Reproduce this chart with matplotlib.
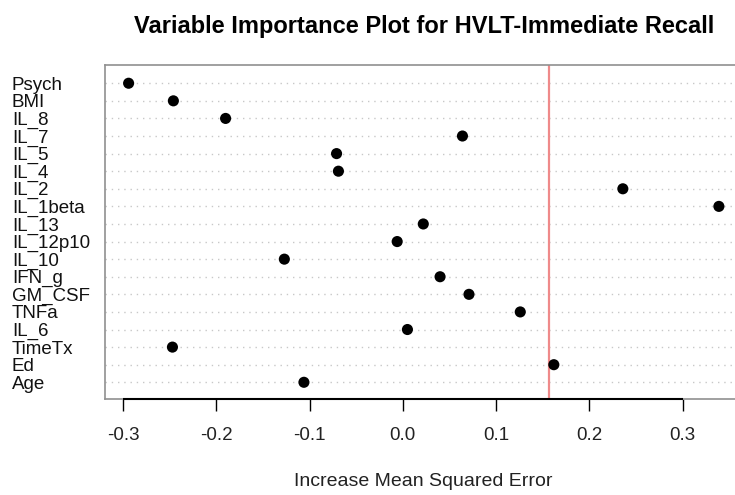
import matplotlib
matplotlib.use("Agg")
import matplotlib.pyplot as plt

variables = ["Psych", "BMI", "IL_8", "IL_7", "IL_5", "IL_4", "IL_2", "IL_1beta",
             "IL_13", "IL_12p10", "IL_10", "IFN_g", "GM_CSF", "TNFa", "IL_6",
             "TimeTx", "Ed", "Age"]
importance = [-0.294, -0.246, -0.190, 0.064, -0.071, -0.069, 0.236, 0.339,
              0.022, -0.006, -0.127, 0.040, 0.071, 0.126, 0.005,
              -0.247, 0.162, -0.106]
reference_value = 0.157
xticks = [-0.3, -0.2, -0.1, 0.0, 0.1, 0.2, 0.3]
xtick_labels = ["-0.3", "-0.2", "-0.1", "0.0", "0.1", "0.2", "0.3"]
title = "Variable Importance Plot for HVLT-Immediate Recall"
xlabel = "Increase Mean Squared Error"

plt.rcParams['font.family'] = ['Liberation Sans', 'DejaVu Sans']

fig = plt.figure(figsize=(7.35, 4.95), dpi=100)
W, H = 735, 495
left, right, top, bottom = 105, 742.5, 65.3, 399
ax = fig.add_axes([left / W, 1 - bottom / H, (right - left) / W, (bottom - top) / H])

n = len(variables)
ypos = list(range(n, 0, -1))

for y in ypos:
    ax.axhline(y, color='#c8c8c8', lw=1.0, linestyle=(0, (1, 3.5)), zorder=1)

ax.axvline(reference_value, color='#ef8a8a', lw=1.6, zorder=2)
ax.scatter(importance, ypos, s=64, color='black', zorder=3, edgecolors='none')

span = max(importance) - min(importance)
ax.set_xlim(min(importance) - 0.04 * span, max(importance) + 0.04 * span)
ax.set_ylim(0.05, n + 1.02)

ax.set_yticks(ypos)
ax.set_yticklabels(variables, fontsize=13.5, ha='left', color='#111111')
ax.tick_params(axis='y', length=0, pad=67)

ax.set_xticks(xticks)
ax.set_xticklabels(xtick_labels, fontsize=13.5, color='#222222')
ax.tick_params(axis='x', length=8.5, width=1.0, pad=12, color='black')

for s in ax.spines.values():
    s.set_color('#909090')
    s.set_linewidth(1.2)

ax.hlines(ax.get_ylim()[0], xticks[0], xticks[-1], color='black', lw=1.5,
          clip_on=False, zorder=5)

ax.set_title(title, fontsize=17, fontweight='bold', pad=23)
ax.set_xlabel(xlabel, fontsize=14, labelpad=20.5, color='#222222')

fig.savefig("out.png", dpi=100)
